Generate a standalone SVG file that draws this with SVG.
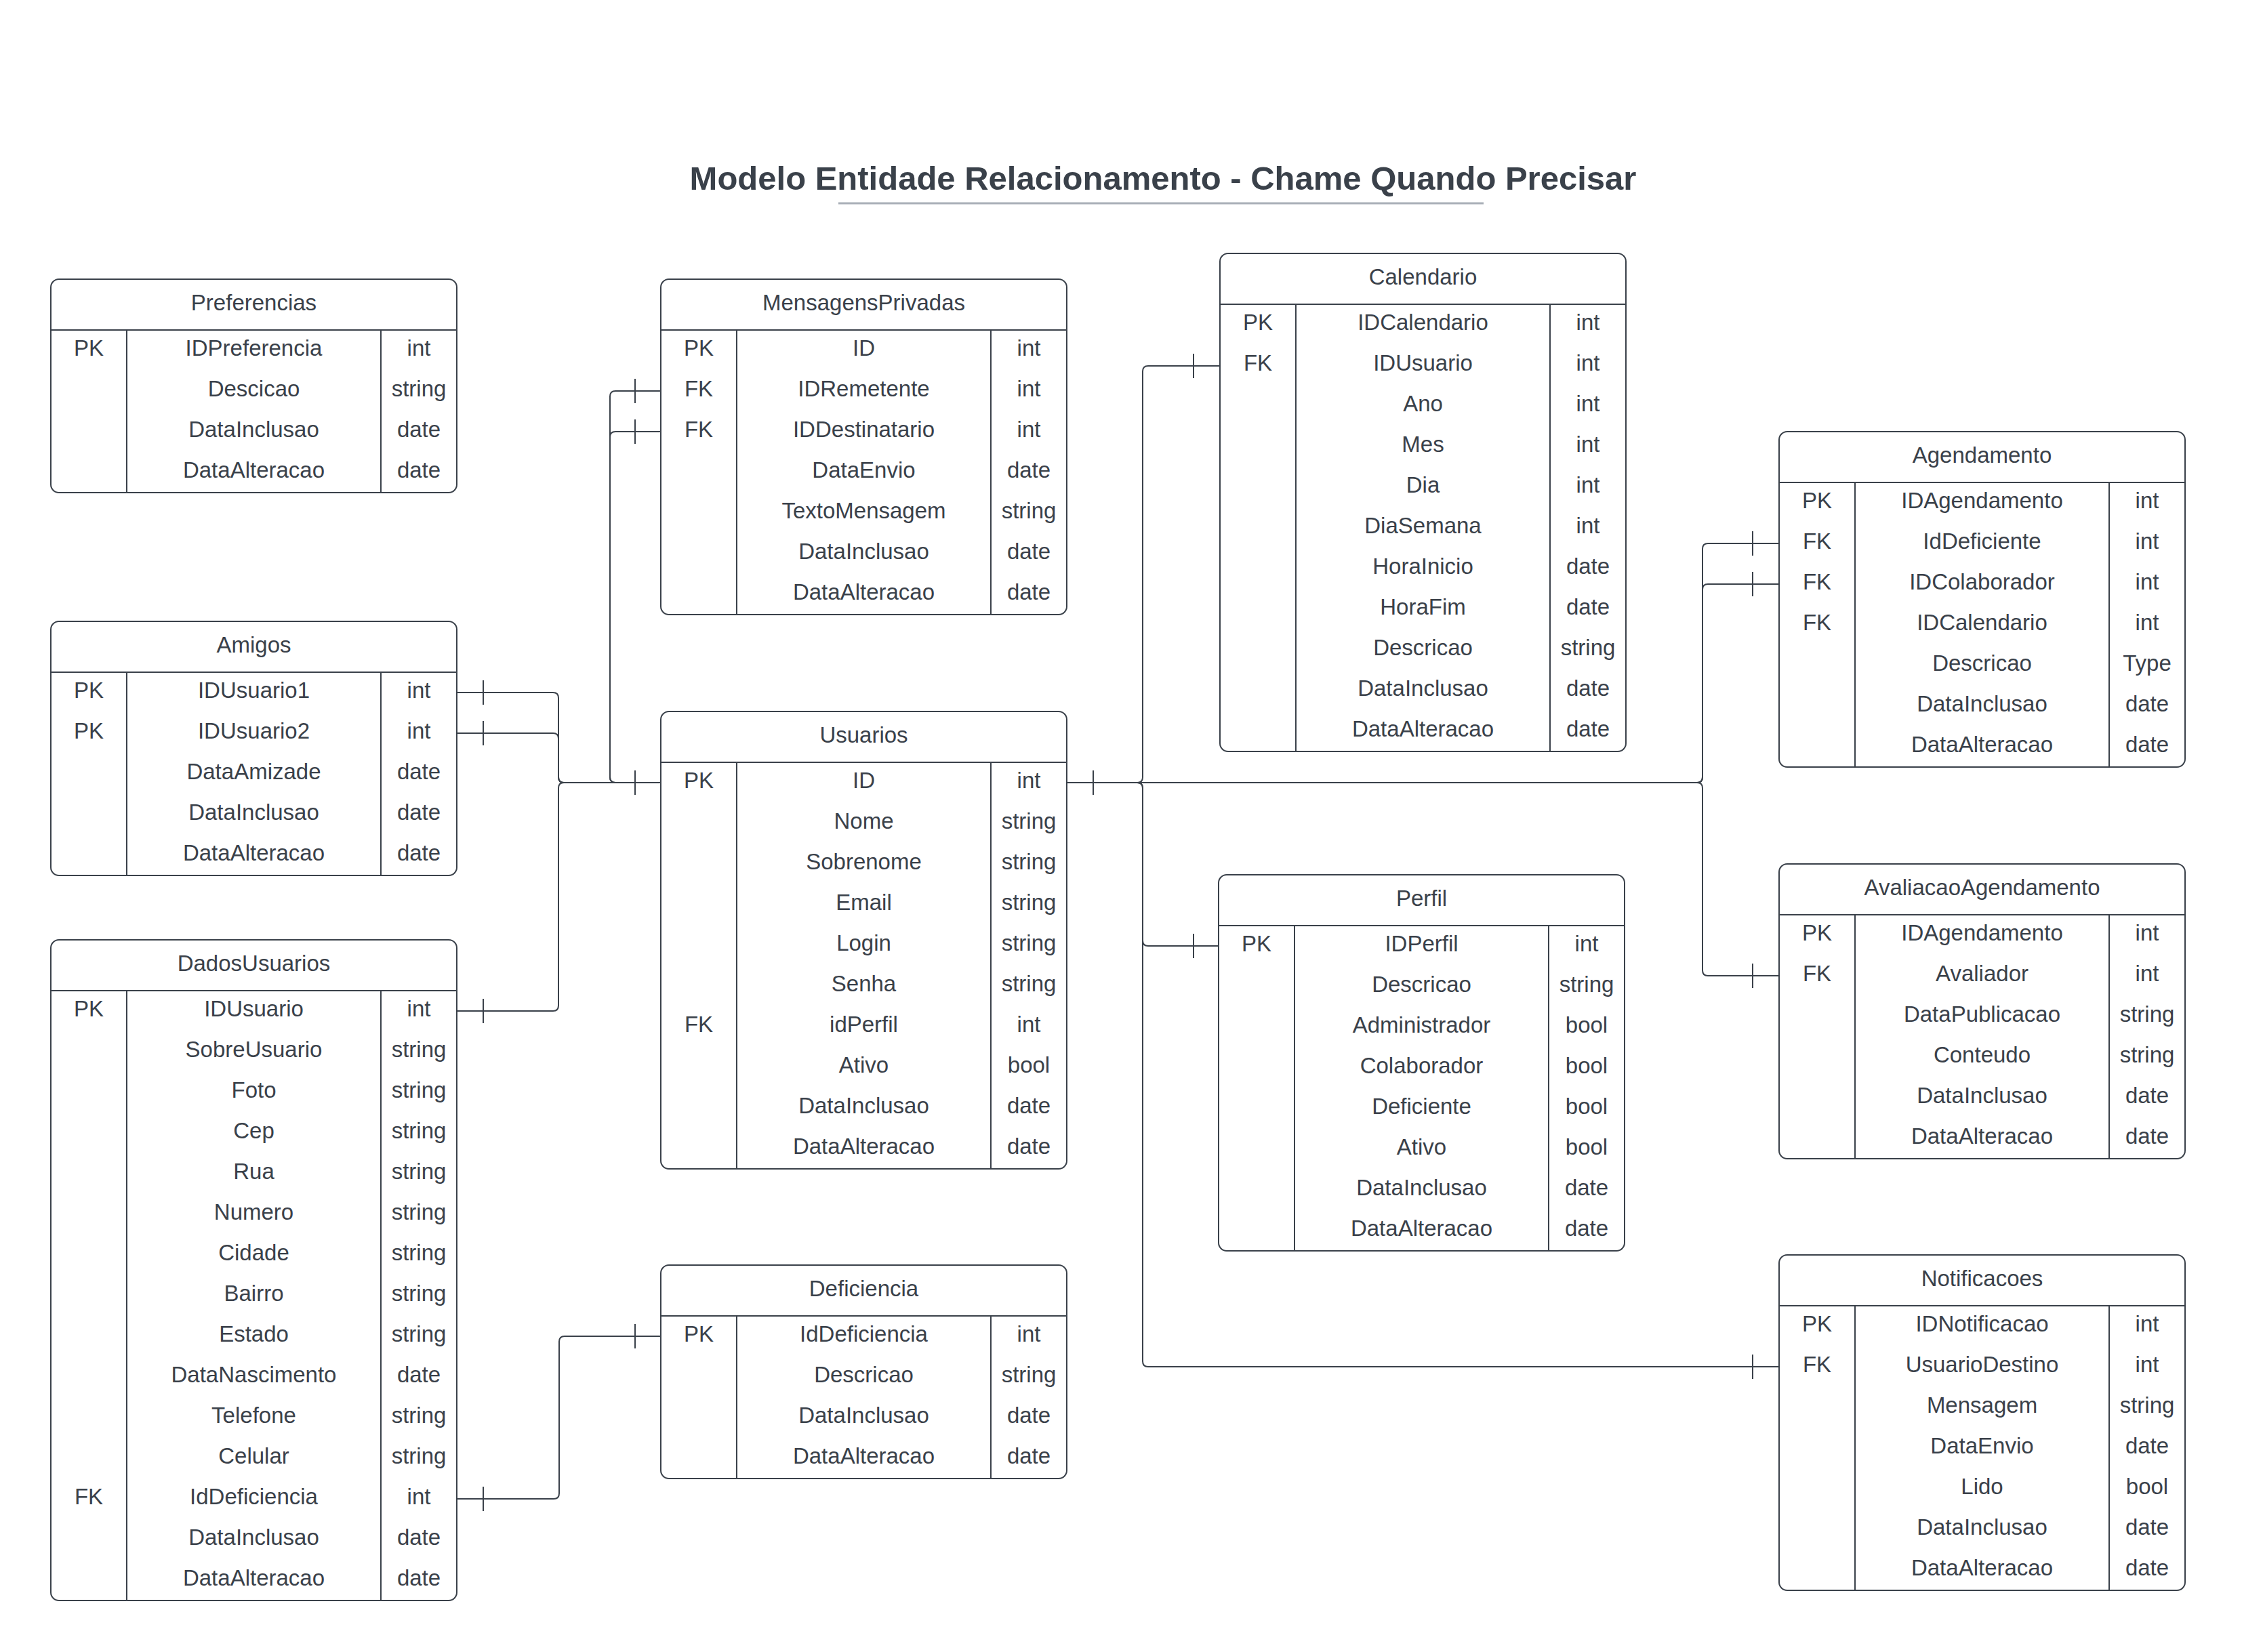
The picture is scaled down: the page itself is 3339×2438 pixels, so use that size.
<svg xmlns="http://www.w3.org/2000/svg" width="3339" height="2438" viewBox="0 0 3339 2438">
<style>
.bg{fill:#ffffff}
.box{fill:#ffffff;stroke:#3a414a;stroke-width:2}
.ln{stroke:#3a414a;stroke-width:2;fill:none}
.t{font-family:"Liberation Sans",Arial,sans-serif;font-size:33px;fill:#3a414a;text-anchor:middle}
.title{font-family:"Liberation Sans",Arial,sans-serif;font-size:49px;font-weight:bold;fill:#3a414a;text-anchor:middle}
.con{stroke:#3a414a;stroke-width:2;fill:none}
.tick{stroke:#3a414a;stroke-width:2}
</style>
<rect class="bg" x="0" y="0" width="3339" height="2438"/>
<g id="title">
<text class="title" x="1716" y="280">Modelo Entidade Relacionamento - Chame Quando Precisar</text>
<line x1="1237" y1="300" x2="2189" y2="300" stroke="#a9afb8" stroke-width="3"/>
</g>
<g id="connectors">
<path class="con" d="M674,1022 H816 Q824,1022 824,1030 V1147 Q824,1155 832,1155 H975"/>
<path class="con" d="M674,1082 H816 Q824,1082 824,1090 V1147 Q824,1155 832,1155 H975"/>
<path class="con" d="M674,1492 H816 Q824,1492 824,1484 V1163 Q824,1155 832,1155 H975"/>
<path class="con" d="M975,577 H908 Q900,577 900,585 V1147 Q900,1155 908,1155 H975"/>
<path class="con" d="M975,637 H908 Q900,637 900,645 V1147 Q900,1155 908,1155 H975"/>
<path class="con" d="M1574,1155 H1678 Q1686,1155 1686,1147 V548 Q1686,540 1694,540 H1800"/>
<path class="con" d="M1574,1155 H1678 Q1686,1155 1686,1163 V1388 Q1686,1396 1694,1396 H1798"/>
<path class="con" d="M1574,1155 H1678 Q1686,1155 1686,1163 V2009 Q1686,2017 1694,2017 H2625"/>
<path class="con" d="M1574,1155 H2504 Q2512,1155 2512,1147 V810 Q2512,802 2520,802 H2625"/>
<path class="con" d="M1574,1155 H2504 Q2512,1155 2512,1147 V870 Q2512,862 2520,862 H2625"/>
<path class="con" d="M1574,1155 H2504 Q2512,1155 2512,1163 V1432 Q2512,1440 2520,1440 H2625"/>
<path class="con" d="M674,2212 H817 Q825,2212 825,2204 V1980 Q825,1972 833,1972 H975"/>
<line class="tick" x1="713" y1="1004" x2="713" y2="1040"/>
<line class="tick" x1="713" y1="1064" x2="713" y2="1100"/>
<line class="tick" x1="713" y1="1474" x2="713" y2="1510"/>
<line class="tick" x1="713" y1="2194" x2="713" y2="2230"/>
<line class="tick" x1="937" y1="1137" x2="937" y2="1173"/>
<line class="tick" x1="937" y1="559" x2="937" y2="595"/>
<line class="tick" x1="937" y1="619" x2="937" y2="655"/>
<line class="tick" x1="937" y1="1954" x2="937" y2="1990"/>
<line class="tick" x1="1613" y1="1137" x2="1613" y2="1173"/>
<line class="tick" x1="1761" y1="522" x2="1761" y2="558"/>
<line class="tick" x1="1761" y1="1378" x2="1761" y2="1414"/>
<line class="tick" x1="2586" y1="784" x2="2586" y2="820"/>
<line class="tick" x1="2586" y1="844" x2="2586" y2="880"/>
<line class="tick" x1="2586" y1="1422" x2="2586" y2="1458"/>
<line class="tick" x1="2586" y1="1999" x2="2586" y2="2035"/>
</g>
<g id="Preferencias">
<rect class="box" x="75" y="412" width="599" height="315" rx="12"/>
<line class="ln" x1="75" y1="487" x2="674" y2="487"/>
<line class="ln" x1="187" y1="487" x2="187" y2="727"/>
<line class="ln" x1="562" y1="487" x2="562" y2="727"/>
<text class="t" x="374.5" y="457.5">Preferencias</text>
<text class="t" x="131" y="525">PK</text><text class="t" x="374.5" y="525">IDPreferencia</text><text class="t" x="618" y="525">int</text>
<text class="t" x="374.5" y="585">Descicao</text><text class="t" x="618" y="585">string</text>
<text class="t" x="374.5" y="645">DataInclusao</text><text class="t" x="618" y="645">date</text>
<text class="t" x="374.5" y="705">DataAlteracao</text><text class="t" x="618" y="705">date</text>
</g>
<g id="Amigos">
<rect class="box" x="75" y="917" width="599" height="375" rx="12"/>
<line class="ln" x1="75" y1="992" x2="674" y2="992"/>
<line class="ln" x1="187" y1="992" x2="187" y2="1292"/>
<line class="ln" x1="562" y1="992" x2="562" y2="1292"/>
<text class="t" x="374.5" y="962.5">Amigos</text>
<text class="t" x="131" y="1030">PK</text><text class="t" x="374.5" y="1030">IDUsuario1</text><text class="t" x="618" y="1030">int</text>
<text class="t" x="131" y="1090">PK</text><text class="t" x="374.5" y="1090">IDUsuario2</text><text class="t" x="618" y="1090">int</text>
<text class="t" x="374.5" y="1150">DataAmizade</text><text class="t" x="618" y="1150">date</text>
<text class="t" x="374.5" y="1210">DataInclusao</text><text class="t" x="618" y="1210">date</text>
<text class="t" x="374.5" y="1270">DataAlteracao</text><text class="t" x="618" y="1270">date</text>
</g>
<g id="DadosUsuarios">
<rect class="box" x="75" y="1387" width="599" height="975" rx="12"/>
<line class="ln" x1="75" y1="1462" x2="674" y2="1462"/>
<line class="ln" x1="187" y1="1462" x2="187" y2="2362"/>
<line class="ln" x1="562" y1="1462" x2="562" y2="2362"/>
<text class="t" x="374.5" y="1432.5">DadosUsuarios</text>
<text class="t" x="131" y="1500">PK</text><text class="t" x="374.5" y="1500">IDUsuario</text><text class="t" x="618" y="1500">int</text>
<text class="t" x="374.5" y="1560">SobreUsuario</text><text class="t" x="618" y="1560">string</text>
<text class="t" x="374.5" y="1620">Foto</text><text class="t" x="618" y="1620">string</text>
<text class="t" x="374.5" y="1680">Cep</text><text class="t" x="618" y="1680">string</text>
<text class="t" x="374.5" y="1740">Rua</text><text class="t" x="618" y="1740">string</text>
<text class="t" x="374.5" y="1800">Numero</text><text class="t" x="618" y="1800">string</text>
<text class="t" x="374.5" y="1860">Cidade</text><text class="t" x="618" y="1860">string</text>
<text class="t" x="374.5" y="1920">Bairro</text><text class="t" x="618" y="1920">string</text>
<text class="t" x="374.5" y="1980">Estado</text><text class="t" x="618" y="1980">string</text>
<text class="t" x="374.5" y="2040">DataNascimento</text><text class="t" x="618" y="2040">date</text>
<text class="t" x="374.5" y="2100">Telefone</text><text class="t" x="618" y="2100">string</text>
<text class="t" x="374.5" y="2160">Celular</text><text class="t" x="618" y="2160">string</text>
<text class="t" x="131" y="2220">FK</text><text class="t" x="374.5" y="2220">IdDeficiencia</text><text class="t" x="618" y="2220">int</text>
<text class="t" x="374.5" y="2280">DataInclusao</text><text class="t" x="618" y="2280">date</text>
<text class="t" x="374.5" y="2340">DataAlteracao</text><text class="t" x="618" y="2340">date</text>
</g>
<g id="MensagensPrivadas">
<rect class="box" x="975" y="412" width="599" height="495" rx="12"/>
<line class="ln" x1="975" y1="487" x2="1574" y2="487"/>
<line class="ln" x1="1087" y1="487" x2="1087" y2="907"/>
<line class="ln" x1="1462" y1="487" x2="1462" y2="907"/>
<text class="t" x="1274.5" y="457.5">MensagensPrivadas</text>
<text class="t" x="1031" y="525">PK</text><text class="t" x="1274.5" y="525">ID</text><text class="t" x="1518" y="525">int</text>
<text class="t" x="1031" y="585">FK</text><text class="t" x="1274.5" y="585">IDRemetente</text><text class="t" x="1518" y="585">int</text>
<text class="t" x="1031" y="645">FK</text><text class="t" x="1274.5" y="645">IDDestinatario</text><text class="t" x="1518" y="645">int</text>
<text class="t" x="1274.5" y="705">DataEnvio</text><text class="t" x="1518" y="705">date</text>
<text class="t" x="1274.5" y="765">TextoMensagem</text><text class="t" x="1518" y="765">string</text>
<text class="t" x="1274.5" y="825">DataInclusao</text><text class="t" x="1518" y="825">date</text>
<text class="t" x="1274.5" y="885">DataAlteracao</text><text class="t" x="1518" y="885">date</text>
</g>
<g id="Usuarios">
<rect class="box" x="975" y="1050" width="599" height="675" rx="12"/>
<line class="ln" x1="975" y1="1125" x2="1574" y2="1125"/>
<line class="ln" x1="1087" y1="1125" x2="1087" y2="1725"/>
<line class="ln" x1="1462" y1="1125" x2="1462" y2="1725"/>
<text class="t" x="1274.5" y="1095.5">Usuarios</text>
<text class="t" x="1031" y="1163">PK</text><text class="t" x="1274.5" y="1163">ID</text><text class="t" x="1518" y="1163">int</text>
<text class="t" x="1274.5" y="1223">Nome</text><text class="t" x="1518" y="1223">string</text>
<text class="t" x="1274.5" y="1283">Sobrenome</text><text class="t" x="1518" y="1283">string</text>
<text class="t" x="1274.5" y="1343">Email</text><text class="t" x="1518" y="1343">string</text>
<text class="t" x="1274.5" y="1403">Login</text><text class="t" x="1518" y="1403">string</text>
<text class="t" x="1274.5" y="1463">Senha</text><text class="t" x="1518" y="1463">string</text>
<text class="t" x="1031" y="1523">FK</text><text class="t" x="1274.5" y="1523">idPerfil</text><text class="t" x="1518" y="1523">int</text>
<text class="t" x="1274.5" y="1583">Ativo</text><text class="t" x="1518" y="1583">bool</text>
<text class="t" x="1274.5" y="1643">DataInclusao</text><text class="t" x="1518" y="1643">date</text>
<text class="t" x="1274.5" y="1703">DataAlteracao</text><text class="t" x="1518" y="1703">date</text>
</g>
<g id="Deficiencia">
<rect class="box" x="975" y="1867" width="599" height="315" rx="12"/>
<line class="ln" x1="975" y1="1942" x2="1574" y2="1942"/>
<line class="ln" x1="1087" y1="1942" x2="1087" y2="2182"/>
<line class="ln" x1="1462" y1="1942" x2="1462" y2="2182"/>
<text class="t" x="1274.5" y="1912.5">Deficiencia</text>
<text class="t" x="1031" y="1980">PK</text><text class="t" x="1274.5" y="1980">IdDeficiencia</text><text class="t" x="1518" y="1980">int</text>
<text class="t" x="1274.5" y="2040">Descricao</text><text class="t" x="1518" y="2040">string</text>
<text class="t" x="1274.5" y="2100">DataInclusao</text><text class="t" x="1518" y="2100">date</text>
<text class="t" x="1274.5" y="2160">DataAlteracao</text><text class="t" x="1518" y="2160">date</text>
</g>
<g id="Calendario">
<rect class="box" x="1800" y="374" width="599" height="735" rx="12"/>
<line class="ln" x1="1800" y1="449" x2="2399" y2="449"/>
<line class="ln" x1="1912" y1="449" x2="1912" y2="1109"/>
<line class="ln" x1="2287" y1="449" x2="2287" y2="1109"/>
<text class="t" x="2099.5" y="419.5">Calendario</text>
<text class="t" x="1856" y="487">PK</text><text class="t" x="2099.5" y="487">IDCalendario</text><text class="t" x="2343" y="487">int</text>
<text class="t" x="1856" y="547">FK</text><text class="t" x="2099.5" y="547">IDUsuario</text><text class="t" x="2343" y="547">int</text>
<text class="t" x="2099.5" y="607">Ano</text><text class="t" x="2343" y="607">int</text>
<text class="t" x="2099.5" y="667">Mes</text><text class="t" x="2343" y="667">int</text>
<text class="t" x="2099.5" y="727">Dia</text><text class="t" x="2343" y="727">int</text>
<text class="t" x="2099.5" y="787">DiaSemana</text><text class="t" x="2343" y="787">int</text>
<text class="t" x="2099.5" y="847">HoraInicio</text><text class="t" x="2343" y="847">date</text>
<text class="t" x="2099.5" y="907">HoraFim</text><text class="t" x="2343" y="907">date</text>
<text class="t" x="2099.5" y="967">Descricao</text><text class="t" x="2343" y="967">string</text>
<text class="t" x="2099.5" y="1027">DataInclusao</text><text class="t" x="2343" y="1027">date</text>
<text class="t" x="2099.5" y="1087">DataAlteracao</text><text class="t" x="2343" y="1087">date</text>
</g>
<g id="Perfil">
<rect class="box" x="1798" y="1291" width="599" height="555" rx="12"/>
<line class="ln" x1="1798" y1="1366" x2="2397" y2="1366"/>
<line class="ln" x1="1910" y1="1366" x2="1910" y2="1846"/>
<line class="ln" x1="2285" y1="1366" x2="2285" y2="1846"/>
<text class="t" x="2097.5" y="1336.5">Perfil</text>
<text class="t" x="1854" y="1404">PK</text><text class="t" x="2097.5" y="1404">IDPerfil</text><text class="t" x="2341" y="1404">int</text>
<text class="t" x="2097.5" y="1464">Descricao</text><text class="t" x="2341" y="1464">string</text>
<text class="t" x="2097.5" y="1524">Administrador</text><text class="t" x="2341" y="1524">bool</text>
<text class="t" x="2097.5" y="1584">Colaborador</text><text class="t" x="2341" y="1584">bool</text>
<text class="t" x="2097.5" y="1644">Deficiente</text><text class="t" x="2341" y="1644">bool</text>
<text class="t" x="2097.5" y="1704">Ativo</text><text class="t" x="2341" y="1704">bool</text>
<text class="t" x="2097.5" y="1764">DataInclusao</text><text class="t" x="2341" y="1764">date</text>
<text class="t" x="2097.5" y="1824">DataAlteracao</text><text class="t" x="2341" y="1824">date</text>
</g>
<g id="Agendamento">
<rect class="box" x="2625" y="637" width="599" height="495" rx="12"/>
<line class="ln" x1="2625" y1="712" x2="3224" y2="712"/>
<line class="ln" x1="2737" y1="712" x2="2737" y2="1132"/>
<line class="ln" x1="3112" y1="712" x2="3112" y2="1132"/>
<text class="t" x="2924.5" y="682.5">Agendamento</text>
<text class="t" x="2681" y="750">PK</text><text class="t" x="2924.5" y="750">IDAgendamento</text><text class="t" x="3168" y="750">int</text>
<text class="t" x="2681" y="810">FK</text><text class="t" x="2924.5" y="810">IdDeficiente</text><text class="t" x="3168" y="810">int</text>
<text class="t" x="2681" y="870">FK</text><text class="t" x="2924.5" y="870">IDColaborador</text><text class="t" x="3168" y="870">int</text>
<text class="t" x="2681" y="930">FK</text><text class="t" x="2924.5" y="930">IDCalendario</text><text class="t" x="3168" y="930">int</text>
<text class="t" x="2924.5" y="990">Descricao</text><text class="t" x="3168" y="990">Type</text>
<text class="t" x="2924.5" y="1050">DataInclusao</text><text class="t" x="3168" y="1050">date</text>
<text class="t" x="2924.5" y="1110">DataAlteracao</text><text class="t" x="3168" y="1110">date</text>
</g>
<g id="AvaliacaoAgendamento">
<rect class="box" x="2625" y="1275" width="599" height="435" rx="12"/>
<line class="ln" x1="2625" y1="1350" x2="3224" y2="1350"/>
<line class="ln" x1="2737" y1="1350" x2="2737" y2="1710"/>
<line class="ln" x1="3112" y1="1350" x2="3112" y2="1710"/>
<text class="t" x="2924.5" y="1320.5">AvaliacaoAgendamento</text>
<text class="t" x="2681" y="1388">PK</text><text class="t" x="2924.5" y="1388">IDAgendamento</text><text class="t" x="3168" y="1388">int</text>
<text class="t" x="2681" y="1448">FK</text><text class="t" x="2924.5" y="1448">Avaliador</text><text class="t" x="3168" y="1448">int</text>
<text class="t" x="2924.5" y="1508">DataPublicacao</text><text class="t" x="3168" y="1508">string</text>
<text class="t" x="2924.5" y="1568">Conteudo</text><text class="t" x="3168" y="1568">string</text>
<text class="t" x="2924.5" y="1628">DataInclusao</text><text class="t" x="3168" y="1628">date</text>
<text class="t" x="2924.5" y="1688">DataAlteracao</text><text class="t" x="3168" y="1688">date</text>
</g>
<g id="Notificacoes">
<rect class="box" x="2625" y="1852" width="599" height="495" rx="12"/>
<line class="ln" x1="2625" y1="1927" x2="3224" y2="1927"/>
<line class="ln" x1="2737" y1="1927" x2="2737" y2="2347"/>
<line class="ln" x1="3112" y1="1927" x2="3112" y2="2347"/>
<text class="t" x="2924.5" y="1897.5">Notificacoes</text>
<text class="t" x="2681" y="1965">PK</text><text class="t" x="2924.5" y="1965">IDNotificacao</text><text class="t" x="3168" y="1965">int</text>
<text class="t" x="2681" y="2025">FK</text><text class="t" x="2924.5" y="2025">UsuarioDestino</text><text class="t" x="3168" y="2025">int</text>
<text class="t" x="2924.5" y="2085">Mensagem</text><text class="t" x="3168" y="2085">string</text>
<text class="t" x="2924.5" y="2145">DataEnvio</text><text class="t" x="3168" y="2145">date</text>
<text class="t" x="2924.5" y="2205">Lido</text><text class="t" x="3168" y="2205">bool</text>
<text class="t" x="2924.5" y="2265">DataInclusao</text><text class="t" x="3168" y="2265">date</text>
<text class="t" x="2924.5" y="2325">DataAlteracao</text><text class="t" x="3168" y="2325">date</text>
</g>
</svg>
